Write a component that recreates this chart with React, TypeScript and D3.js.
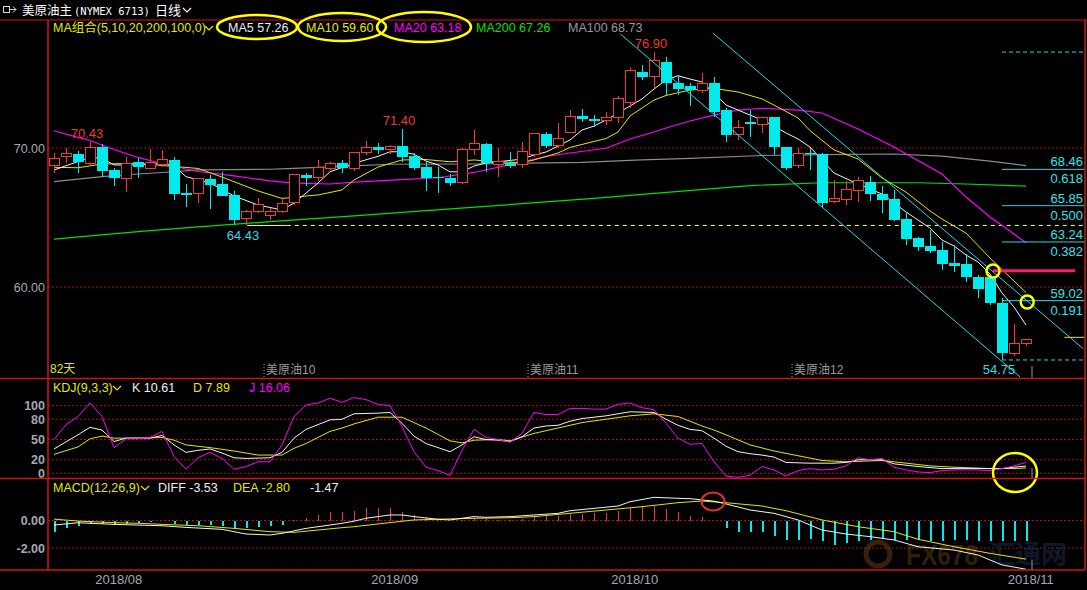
import * as d3 from "d3"

// candles (oldest first)
const opens = [68.73, 69.4, 69.57, 68.85, 70.05, 68.42, 67.82, 68.97, 68.54, 68.78, 69.14, 66.78, 66.71, 67.77, 67.41, 66.62, 64.94, 65.42, 65.13, 65.42, 66.09, 68.06, 67.89, 68.54, 68.9, 68.54, 69.69, 70.1, 69.91, 70.14, 69.42, 68.61, 67.94, 67.86, 67.5, 69.86, 70.29, 68.78, 68.94, 68.78, 69.5, 71.01, 70.17, 71.1, 72.3, 72.09, 71.96, 72.18, 73.26, 75.45, 75.13, 76.17, 74.7, 74.48, 74.17, 74.7, 72.73, 70.94, 71.89, 71.7, 72.21, 70.1, 68.71, 69.66, 69.57, 66.14, 66.31, 66.93, 67.53, 66.69, 66.33, 64.89, 63.5, 62.95, 62.66, 61.75, 61.65, 60.74, 60.74, 58.87, 55.23, 55.95]
const highs = [69.66, 69.98, 69.78, 70.43, 70.27, 68.54, 69.33, 69.26, 69.93, 69.86, 69.37, 67.41, 67.77, 68.06, 68.29, 66.93, 65.54, 66.38, 65.66, 66.45, 68.11, 68.18, 69.14, 69.01, 69.14, 69.73, 70.5, 70.38, 70.22, 71.4, 69.62, 69.01, 68.65, 68.13, 69.98, 71.29, 70.34, 69.98, 69.73, 70.45, 71.1, 71.17, 71.78, 72.73, 72.78, 72.37, 72.61, 73.74, 75.85, 75.97, 76.9, 76.57, 75.25, 74.65, 75.37, 75.13, 72.86, 72.01, 72.73, 72.25, 72.25, 70.1, 69.98, 69.98, 69.62, 67.7, 67.63, 67.94, 67.99, 67.27, 66.98, 65.42, 63.58, 64.1, 63.26, 63.02, 62.37, 60.86, 60.86, 59.19, 57.34, 56.24]
const lows = [68.22, 68.9, 68.22, 68.78, 67.94, 67.29, 66.86, 67.86, 68.49, 68.65, 66.26, 65.78, 66.02, 65.61, 66.57, 64.46, 64.43, 65.3, 64.82, 65.3, 65.9, 67.29, 67.65, 68.42, 68.18, 68.37, 69.5, 69.57, 69.57, 69.01, 68.42, 66.93, 66.78, 67.27, 67.41, 69.5, 68.29, 67.94, 68.54, 68.54, 69.37, 69.98, 69.98, 71.06, 71.89, 71.53, 71.65, 71.82, 72.9, 74.89, 74.29, 73.81, 73.81, 73.04, 73.98, 72.25, 70.45, 70.58, 70.81, 71.06, 69.5, 68.42, 68.58, 68.42, 65.73, 66.02, 65.9, 66.14, 66.19, 65.3, 64.77, 63.02, 62.61, 62.42, 61.22, 61.1, 60.38, 59.19, 58.71, 54.75, 55.04, 55.76]
const closes = [69.26, 69.57, 69.01, 70.05, 68.37, 67.82, 68.9, 68.65, 68.97, 69.14, 66.69, 66.62, 67.77, 67.34, 66.57, 64.82, 65.42, 65.9, 65.42, 66.02, 68.11, 67.82, 68.58, 68.9, 68.54, 69.69, 70.05, 69.86, 70.1, 69.33, 68.58, 67.82, 67.82, 67.5, 69.91, 70.29, 68.94, 69.01, 68.71, 69.78, 71.01, 70.14, 70.7, 72.3, 72.06, 71.96, 72.21, 73.58, 75.54, 75.09, 76.26, 74.65, 74.24, 74.17, 74.65, 72.61, 70.94, 71.49, 71.7, 72.21, 70.05, 68.58, 69.62, 69.55, 66.06, 66.38, 66.98, 67.63, 66.67, 66.26, 64.82, 63.45, 62.86, 62.61, 61.65, 61.53, 60.7, 59.83, 58.83, 55.23, 55.95, 56.24]

// moving averages as [candle index, price]
const ma5: [number, number][] = [[0, 68.42], [3, 69.33], [4, 69.26], [5, 68.78], [7, 68.78], [9, 68.9], [10, 68.71], [11, 67.94], [13, 67.48], [15, 66.55], [17, 65.9], [19, 65.54], [20, 66.04], [21, 66.76], [22, 67.48], [23, 68.29], [25, 68.9], [27, 69.4], [28, 69.73], [29, 69.73], [30, 69.55], [31, 69.06], [32, 68.78], [33, 68.29], [34, 68.29], [35, 68.7], [36, 68.92], [37, 69.01], [39, 69.2], [40, 69.5], [41, 69.71], [42, 70.14], [43, 70.58], [44, 71.29], [45, 71.58], [46, 72.01], [47, 72.52], [48, 73.02], [49, 73.53], [50, 74.24], [51, 74.89], [52, 75.2], [53, 74.96], [54, 74.75], [55, 73.96], [56, 73.09], [57, 72.73], [58, 72.37], [59, 72.01], [60, 71.58], [61, 71.08], [62, 70.65], [63, 70.07], [64, 69.14], [65, 68.2], [67, 67.41], [69, 66.69], [71, 65.4], [73, 64.24], [74, 63.38], [75, 62.95], [76, 62.3], [77, 61.8], [78, 60.94], [79, 59.57], [80, 58.56], [81, 57.26]]
const ma10: [number, number][] = [[0, 68.61], [2, 68.58], [4, 68.85], [7, 68.9], [9, 68.74], [12, 68.53], [14, 67.91], [17, 66.91], [19, 66.37], [21, 66.55], [22, 66.62], [24, 66.98], [25, 67.7], [27, 68.63], [29, 69.14], [31, 69.17], [33, 69.01], [35, 69.14], [37, 68.99], [39, 68.96], [40, 69.14], [42, 69.64], [43, 70.04], [45, 70.47], [46, 70.68], [47, 71.15], [48, 72.3], [50, 73.45], [51, 73.78], [53, 74.17], [55, 74.29], [57, 74.03], [59, 73.53], [60, 73.09], [62, 72.16], [63, 71.25], [65, 69.86], [67, 69.21], [69, 67.84], [71, 66.83], [73, 65.47], [74, 64.89], [76, 63.88], [78, 62.09], [80, 60.43], [81, 59.6]]
const ma20: [number, number][] = [[0, 71.24], [2, 70.76], [3, 70.54], [5, 69.89], [7, 69.32], [8, 69.1], [10, 68.67], [12, 68.31], [15, 67.99], [18, 67.63], [20, 67.48], [21, 67.45], [23, 67.41], [25, 67.55], [29, 67.73], [32, 67.86], [35, 68.24], [38, 68.81], [41, 69.39], [43, 69.64], [46, 69.98], [48, 70.65], [50, 71.15], [51, 71.44], [53, 71.94], [55, 72.37], [57, 72.73], [59, 72.86], [62, 72.73], [64, 72.52], [67, 71.37], [70, 70.07], [74, 68.13], [76, 66.47], [78, 65.04], [80, 63.81], [81, 63.18]]
const ma100: [number, number][] = [[0, 67.58], [4, 67.94], [7, 68.13], [10, 68.29], [12, 68.42], [18, 68.47], [20, 68.54], [25, 68.71], [28, 68.83], [35, 68.85], [44, 68.97], [49, 69.14], [53, 69.26], [59, 69.46], [64, 69.53], [70, 69.57], [74, 69.42], [78, 69.06], [81, 68.73]]
const ma200: [number, number][] = [[0, 63.45], [7, 63.99], [12, 64.32], [18, 64.7], [25, 65.11], [29, 65.37], [45, 66.37], [49, 66.67], [58, 67.3], [64, 67.5], [72, 67.5], [76, 67.41], [81, 67.26]]

// trend channel and fibonacci levels drawn on the chart
const channelLines: [number, number][][] = [
  [[47.2, 78.2], [80.5, 53.53]],
  [[54.9, 78.27], [85.8, 55.54]],
]
const fibPrices = [68.46, 65.85, 63.24, 59.02]
const fibRatios = ["0.618", "0.500", "0.382", "0.191"]
const fibTop = 76.9
const fibBottom = 54.75
const lowLevel = 64.43
const pinkLevel = 61.17
const circleMarks: [number, number][] = [[78.25, 61.15], [81.1, 58.92]]

const highMarks = [{i: 3, v: 70.43}, {i: 29, v: 71.4}, {i: 50, v: 76.9}]
const lowMarks = [{i: 16, v: 64.43}, {i: 79, v: 54.75}]
const contractTicks = [{i: 17.5, label: "美原油10"}, {i: 39.5, label: "美原油11"}, {i: 61.5, label: "美原油12"}]
const dateTicks = [{i: 5.4, label: "2018/08"}, {i: 28.4, label: "2018/09"}, {i: 48.4, label: "2018/10"}, {i: 81.4, label: "2018/11"}]

// KDJ(9,3,3)
const kdjJ = [50, 72, 84, 104, 84, 38, 51, 51, 53, 62, 25, 6, 23, 31, 22, 6, 10, 17, 17, 42, 84, 101, 104, 111, 105, 112, 109, 102, 100, 69, 32, 9, 4, -3, 34, 65, 53, 50, 46, 59, 90, 87, 87, 96, 96, 95, 95, 102, 104, 97, 94, 74, 52, 43, 44, 17, -4, -6, -3, 10, 5, -4, 4, 7, 5, 6, 11, 23, 20, 22, 9, 5, 2, 1, 4, 5, 5, 5, 4, 7, 11, 16.06]
const kdjK: [number, number][] = [[0, 36], [2, 57], [3, 68], [4, 64], [5, 47], [6, 52], [8, 52], [9, 56], [10, 42], [11, 31], [12, 34], [13, 36], [14, 30], [15, 23], [16, 22], [18, 23], [19, 31], [20, 52], [21, 65], [23, 79], [24, 80], [25, 88], [27, 89], [28, 90], [29, 74], [30, 55], [31, 44], [32, 38], [33, 32], [34, 42], [35, 54], [36, 50], [37, 49], [38, 47], [39, 54], [40, 67], [41, 70], [42, 71], [43, 77], [44, 81], [46, 85], [48, 91], [50, 90], [51, 80], [52, 71], [53, 65], [54, 63], [55, 52], [56, 40], [57, 32], [58, 29], [59, 27], [60, 24], [61, 16], [63, 15], [65, 15], [66, 16], [67, 20], [69, 20], [70, 14], [72, 10], [74, 7], [77, 7], [79, 7], [80, 9], [81, 10.61]]
const kdjD: [number, number][] = [[0, 28], [2, 39], [3, 51], [4, 55], [5, 52], [7, 52], [9, 53], [10, 49], [11, 42], [13, 38], [15, 33], [17, 27], [19, 27], [20, 37], [21, 44], [23, 62], [24, 67], [25, 73], [27, 83], [29, 83], [31, 67], [33, 48], [34, 45], [35, 49], [37, 50], [38, 48], [40, 59], [42, 67], [44, 75], [46, 80], [48, 85], [50, 88], [52, 84], [53, 77], [54, 70], [55, 64], [56, 57], [58, 42], [60, 33], [62, 26], [64, 19], [66, 17], [69, 19], [71, 15], [73, 11], [75, 9], [78, 7], [80, 7], [81, 7.89]]
const kdjTicks = [0, 20, 50, 80, 100]

// MACD(12,26,9)
const macdBars = [-0.8, -0.55, -0.43, -0.24, -0.27, -0.36, -0.27, -0.2, -0.14, -0.07, -0.27, -0.31, -0.31, -0.36, -0.43, -0.6, -0.55, -0.5, -0.43, -0.31, 0.05, 0.17, 0.4, 0.65, 0.6, 0.72, 0.9, 0.9, 0.9, 0.65, 0.41, 0.24, 0.12, -0.07, 0.07, 0.2, 0.12, 0.07, 0.05, 0.12, 0.24, 0.29, 0.31, 0.48, 0.48, 0.56, 0.53, 0.68, 0.9, 0.97, 1.06, 0.8, 0.58, 0.36, 0.24, -0.07, -0.55, -0.8, -0.85, -0.85, -1.09, -1.4, -1.4, -1.33, -1.52, -1.74, -1.64, -1.45, -1.38, -1.26, -1.38, -1.38, -1.38, -1.52, -1.45, -1.4, -1.38, -1.45, -1.45, -1.5, -1.45, -1.47]
const macdDiff: [number, number][] = [[0, -0.33], [2, -0.16], [5, -0.28], [7, -0.33], [9, -0.38], [11, -0.5], [14, -0.64], [16, -0.98], [18, -1.05], [19, -0.93], [21, -0.57], [23, -0.33], [24, -0.2], [25, -0.05], [26, 0.16], [28, 0.4], [29, 0.4], [30, 0.28], [32, 0.09], [33, 0.04], [35, 0.28], [36, 0.23], [38, 0.28], [40, 0.4], [42, 0.52], [43, 0.71], [45, 0.88], [47, 1.05], [48, 1.36], [50, 1.68], [52, 1.61], [53, 1.58], [55, 1.4], [56, 1.2], [58, 0.76], [60, 0.52], [62, 0.04], [64, -0.69], [66, -0.98], [68, -1.17], [70, -1.41], [72, -1.9], [75, -2.14], [77, -2.5], [79, -3.22], [81, -3.53]]
const macdDea: [number, number][] = [[0, 0.1], [2, -0.04], [5, -0.16], [7, -0.2], [9, -0.28], [12, -0.38], [15, -0.57], [18, -0.81], [20, -0.86], [22, -0.69], [24, -0.52], [25, -0.45], [27, -0.25], [30, 0.04], [32, 0.09], [35, 0.16], [38, 0.2], [40, 0.28], [43, 0.52], [46, 0.76], [49, 1.0], [52, 1.29], [54, 1.41], [56, 1.29], [59, 1.05], [61, 0.71], [64, 0.04], [67, -0.45], [70, -0.81], [72, -1.36], [75, -1.9], [78, -2.38], [81, -2.8]]
const macdTicks = [0, -2]

const RED = "#f23b3b"
const CYAN = "#00ecec"
const GRID = "#b01010"
const AXIS = "#d41414"
const LABEL = "#a2a9b4"
const YEL = "#e6e600"
const FONT = "'Liberation Sans', 'Noto Sans CJK SC', sans-serif"

function Chevron(props: {x: number; y: number; color: string}) {
  const {x, y, color} = props
  return <path d={`M${x},${y} l4,4 l4,-4`} fill="none" stroke={color} strokeWidth={1.2} />
}

export default function App() {
  const x = d3.scaleLinear().domain([0, 81]).range([54, 1026])
  const yP = d3.scaleLinear().domain([60, 70]).range([287, 148])
  const yK = d3.scaleLinear().domain([0, 100]).range([473.3, 405.7])
  const yM = d3.scaleLinear().domain([-2, 0]).range([548.1, 520.5])

  const priceLine = d3.line<[number, number]>().x((d) => x(d[0])).y((d) => yP(d[1]))
  const kdjLine = d3.line<[number, number]>().x((d) => x(d[0])).y((d) => yK(d[1]))
  const macdLine = d3.line<[number, number]>().x((d) => x(d[0])).y((d) => yM(d[1]))

  const left = 48
  const right = 1085
  const fibX0 = x(79)

  return (
    <svg
      width={1087}
      height={590}
      style={{position: "absolute", left: 0, top: 0, background: "#000"}}
      fontFamily={FONT}
    >
      <defs>
        <clipPath id="main">
          <rect x={left} y={20} width={right - left} height={358} />
        </clipPath>
      </defs>
      <rect width={1087} height={590} fill="#000" />

      {/* title bar */}
      <g stroke="#d8d8d8" fill="none" strokeWidth={1}>
        <rect x={3.5} y={6.5} width={6} height={6} />
        <path d="M10,9.5 h6 M13,6.5 l3,3 l-3,3" />
      </g>
      <text x={22} y={15} fill="#fff" fontSize={12.5}>美原油主</text>
      <text x={74} y={14.5} fill="#fff" fontSize={10.5} fontFamily="'DejaVu Sans Mono', monospace">(NYMEX 6713)</text>
      <text x={155} y={15} fill="#fff" fontSize={13}>日线</text>
      <Chevron x={183} y={8} color="#fff" />
      <line x1={0} x2={1087} y1={20} y2={20} stroke={AXIS} />

      {/* MA legend */}
      <g fontSize={12.5}>
        <text x={53} y={32} fill={YEL}>MA组合(5,10,20,200,100,0)</text>
        <Chevron x={205} y={26} color={YEL} />
        <text x={228} y={32} fill="#e4ecf4">MA5 57.26</text>
        <text x={306} y={32} fill={YEL}>MA10 59.60</text>
        <text x={394} y={32} fill="#ff00ff">MA20 63.18</text>
        <text x={476} y={32} fill="#00e000">MA200 67.26</text>
        <text x={568} y={32} fill="#9a9a9a">MA100 68.73</text>
      </g>

      {/* main panel grid */}
      {[60, 70].map((v) => (
        <g key={v}>
          <line x1={left} x2={right} y1={yP(v)} y2={yP(v)} stroke={GRID} strokeDasharray="2,2" />
          <text x={45} y={yP(v) + 4.5} fill={LABEL} fontSize={12.5} textAnchor="end">{v.toFixed(2)}</text>
        </g>
      ))}

      <g clipPath="url(#main)">
        {/* 64.43 level */}
        <line x1={x(16.1)} x2={x(19.4)} y1={yP(lowLevel)} y2={yP(lowLevel)} stroke="#ffff80" />
        <line x1={x(19.4)} x2={right} y1={yP(lowLevel)} y2={yP(lowLevel)} stroke="#ffff80" strokeDasharray="4,4" />

        {/* moving averages */}
        <path d={priceLine(ma200) ?? ""} fill="none" stroke="#00e000" strokeWidth={1.2} />
        <path d={priceLine(ma100) ?? ""} fill="none" stroke="#8c8c8c" strokeWidth={1.2} />
        <path d={priceLine(ma20) ?? ""} fill="none" stroke="#ff00ff" strokeWidth={1.2} />
        <path d={priceLine(ma10) ?? ""} fill="none" stroke="#e6e600" strokeWidth={1} />
        <path d={priceLine(ma5) ?? ""} fill="none" stroke="#f4f4f4" strokeWidth={1} />

        {/* candles */}
        <g shapeRendering="crispEdges">
          {closes.map((c, i) => {
            const o = opens[i]
            const cx = Math.round(x(i)) + 0.5
            const top = yP(Math.max(o, c))
            const bot = yP(Math.min(o, c))
            const h = Math.max(1, bot - top)
            if (c >= o) {
              return (
                <g key={i} stroke={RED} fill="#000">
                  <line x1={cx} x2={cx} y1={yP(highs[i])} y2={top} />
                  <line x1={cx} x2={cx} y1={top + h} y2={yP(lows[i])} />
                  <rect x={cx - 5} y={top} width={10} height={h} />
                </g>
              )
            }
            return (
              <g key={i}>
                <line x1={cx} x2={cx} y1={yP(highs[i])} y2={yP(lows[i])} stroke={CYAN} />
                <rect x={cx - 5.5} y={top} width={11} height={h} fill={CYAN} />
              </g>
            )
          })}
        </g>

        {/* trend channel */}
        {channelLines.map((seg, k) => (
          <path key={k} d={priceLine(seg) ?? ""} stroke="#20d8e8" strokeWidth={1} fill="none" />
        ))}

        {/* fibonacci */}
        <line x1={fibX0} x2={right} y1={yP(fibTop)} y2={yP(fibTop)} stroke="#20d8e8" strokeDasharray="4,3" />
        <line x1={fibX0} x2={right} y1={yP(fibBottom)} y2={yP(fibBottom)} stroke="#20d8e8" strokeDasharray="4,3" />
        {fibPrices.map((v, k) => (
          <g key={v}>
            <line x1={fibX0} x2={right} y1={yP(v)} y2={yP(v)} stroke="#20d8e8" />
            <text x={1083} y={yP(v) - 3} fill="#30e4ec" fontSize={13} textAnchor="end">{v.toFixed(2)}</text>
            <text x={1083} y={yP(v) + 14} fill="#30e4ec" fontSize={13} textAnchor="end">{fibRatios[k]}</text>
          </g>
        ))}
        <line x1={x(78.25)} x2={x(85.1)} y1={yP(pinkLevel)} y2={yP(pinkLevel)} stroke="#ff1a6e" strokeWidth={3} />
        <line x1={x(84.2)} x2={right} y1={yP(56.38)} y2={yP(56.38)} stroke="#e6e600" />
        {circleMarks.map((d, k) => (
          <circle key={k} cx={x(d[0])} cy={yP(d[1])} r={6.5} fill="none" stroke="#ffff00" strokeWidth={2.5} />
        ))}

        {/* extreme labels */}
        {highMarks.map((d) => (
          <text key={d.i} x={x(d.i) - 3} y={yP(d.v) - 4} fill="#e83a3a" fontSize={13} textAnchor="middle">{d.v.toFixed(2)}</text>
        ))}
        {lowMarks.map((d) => (
          <text key={d.i} x={x(d.i) - 3} y={yP(d.v) + 14.5} fill="#30d8e8" fontSize={13} textAnchor="middle">{d.v.toFixed(2)}</text>
        ))}
        <line x1={x(81.5)} x2={x(81.5)} y1={366} y2={378} stroke="#9a9a9a" />

        {/* contract rolls */}
        {contractTicks.map((d) => (
          <g key={d.label}>
            <line x1={x(d.i)} x2={x(d.i)} y1={364} y2={377} stroke="#9a9a9a" strokeDasharray="1,2" />
            <text x={x(d.i) + 2} y={374} fill="#9a9a9a" fontSize={12}>{d.label}</text>
          </g>
        ))}
        <text x={50} y={373} fill={YEL} fontSize={12}>82天</text>
      </g>

      {/* header ellipses */}
      <g fill="none" stroke="#ffff00" strokeWidth={2.5}>
        <ellipse cx={257} cy={27} rx={40} ry={12} />
        <ellipse cx={342} cy={27} rx={44} ry={14} />
        <ellipse cx={424} cy={27} rx={47} ry={15} />
      </g>

      {/* KDJ panel */}
      <line x1={0} x2={right} y1={378.5} y2={378.5} stroke={AXIS} strokeWidth={1.5} />
      <g fontSize={12.5}>
        <text x={53} y={392} fill={YEL}>KDJ(9,3,3)</text>
        <Chevron x={113} y={386} color={YEL} />
        <text x={132} y={392} fill="#f0f0f0">K 10.61</text>
        <text x={193} y={392} fill={YEL}>D 7.89</text>
        <text x={249} y={392} fill="#ff00ff">J 16.06</text>
      </g>
      {kdjTicks.map((v) => (
        <g key={v}>
          <line x1={left} x2={right} y1={yK(v)} y2={yK(v)} stroke={GRID} strokeDasharray="2,2" />
          <text x={45} y={yK(v) + 4.5} fill={LABEL} fontSize={12.5} fontWeight="bold" textAnchor="end">{v}</text>
        </g>
      ))}
      <path d={kdjLine(kdjD) ?? ""} fill="none" stroke="#e6e600" />
      <path d={kdjLine(kdjK) ?? ""} fill="none" stroke="#f4f4f4" />
      <path d={kdjLine(kdjJ.map((v, i) => [i, v] as [number, number])) ?? ""} fill="none" stroke="#ff00ff" />
      <line x1={x(81.5)} x2={x(81.5)} y1={468} y2={478} stroke="#9a9a9a" />
      <ellipse cx={1015} cy={472.5} rx={22} ry={19.5} fill="none" stroke="#ffff00" strokeWidth={2.5} />

      {/* MACD panel */}
      <line x1={0} x2={right} y1={478.5} y2={478.5} stroke={AXIS} strokeWidth={1.5} />
      <g fontSize={12.5}>
        <text x={53} y={492} fill={YEL}>MACD(12,26,9)</text>
        <Chevron x={141} y={486} color={YEL} />
        <text x={158} y={492} fill="#f0f0f0">DIFF -3.53</text>
        <text x={233} y={492} fill={YEL}>DEA -2.80</text>
        <text x={310} y={492} fill="#f0f0f0">-1.47</text>
      </g>
      {macdTicks.map((v) => (
        <g key={v}>
          <line x1={left} x2={right} y1={yM(v)} y2={yM(v)} stroke={GRID} strokeDasharray="2,2" />
          <text x={45} y={yM(v) + 4.5} fill={LABEL} fontSize={12.5} fontWeight="bold" textAnchor="end">{v.toFixed(2)}</text>
        </g>
      ))}

      {/* watermark */}
      <g opacity={0.45}>
        <circle cx={878} cy={554} r={12} fill="none" stroke="#7a4a1a" strokeWidth={5} />
        <text x={906} y={565} fill="#6a4616" fontSize={30} fontWeight="bold" textLength={72} lengthAdjust="spacingAndGlyphs" fontFamily="'Liberation Sans', sans-serif">FX678</text>
        <text x={989} y={563} fill="#22345a" fontSize={25} fontWeight="bold" textLength={78} lengthAdjust="spacingAndGlyphs" fontFamily="'Noto Sans CJK SC', sans-serif">汇通网</text>
      </g>

      <g shapeRendering="crispEdges">
        {macdBars.map((v, i) => (
          <line
            key={i}
            x1={Math.round(x(i)) + 0.5}
            x2={Math.round(x(i)) + 0.5}
            y1={yM(0)}
            y2={yM(v)}
            stroke={v >= 0 ? RED : CYAN}
            strokeWidth={v >= 0 ? 1.5 : 2}
          />
        ))}
      </g>
      <path d={macdLine(macdDea) ?? ""} fill="none" stroke="#e6e600" />
      <path d={macdLine(macdDiff) ?? ""} fill="none" stroke="#f4f4f4" />
      <line x1={x(81.5)} x2={x(81.5)} y1={560} y2={570} stroke="#9a9a9a" />
      <ellipse cx={713} cy={501.5} rx={11.5} ry={9} fill="none" stroke="#e03030" strokeWidth={2} />
      <line x1={0} x2={right} y1={570} y2={570} stroke={AXIS} strokeWidth={1.5} />

      {/* frame */}
      <line x1={left} x2={left} y1={20} y2={570} stroke={AXIS} strokeWidth={1.5} />
      <line x1={right} x2={right} y1={20} y2={570} stroke={AXIS} strokeWidth={1.5} />

      {/* date axis */}
      {dateTicks.map((d) => (
        <text key={d.label} x={x(d.i)} y={584} fill={LABEL} fontSize={13} textAnchor="middle">{d.label}</text>
      ))}
    </svg>
  )
}
